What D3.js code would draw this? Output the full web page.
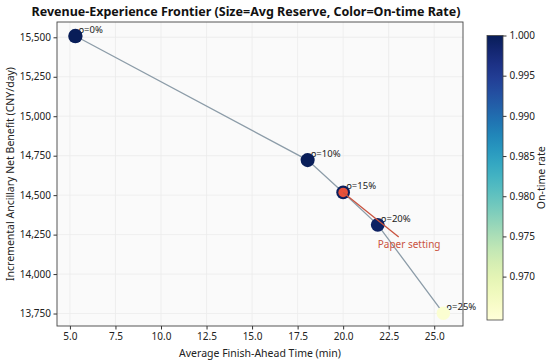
<!DOCTYPE html>
<html>
<head>
<meta charset="utf-8">
<script src="https://cdn.jsdelivr.net/npm/d3@7"></script>
<style>
  body { margin: 0; background: #fff; }
  svg { font-family: "Noto Sans", sans-serif; }
</style>
</head>
<body>
<div id="wrapper"></div>
<script>
// data
const rhoLabels = ["ρ=0%", "ρ=10%", "ρ=15%", "ρ=20%", "ρ=25%"];
const finishAhead = [5.3, 18.05, 20.0, 21.9, 25.5];
const netBenefit = [15508, 14722, 14517, 14312, 13752];
const onTimeRate = [1.0, 0.9999, 0.9996, 0.9992, 0.9655];
const avgReserve = [3.3, 3.15, 3.0, 3.05, 2.9];
const xTicks = [5, 7.5, 10, 12.5, 15, 17.5, 20, 22.5, 25];
const yTicks = [13750, 14000, 14250, 14500, 14750, 15000, 15250, 15500];
const cbTicks = [0.970, 0.975, 0.980, 0.985, 0.990, 0.995, 1.000];
const paperIndex = 2;

const data = rhoLabels.map((l, i) => ({
    label: l,
    x: finishAhead[i],
    y: netBenefit[i],
    c: onTimeRate[i],
    s: avgReserve[i]
}));

let dimensions = {
    width: 550,
    height: 364,
    margin: { top: 22, right: 87, bottom: 38, left: 57 }
};
dimensions.boundedWidth = dimensions.width - dimensions.margin.left - dimensions.margin.right;
dimensions.boundedHeight = dimensions.height - dimensions.margin.top - dimensions.margin.bottom;

const svg = d3.select("#wrapper")
    .append("svg")
    .attr("width", dimensions.width)
    .attr("height", dimensions.height);

const bounds = svg.append("g")
    .attr("transform", `translate(${dimensions.margin.left},${dimensions.margin.top})`);

const xScale = d3.scaleLinear()
    .domain([4.29, 26.58])
    .range([0, dimensions.boundedWidth]);

const yScale = d3.scaleLinear()
    .domain([13671, 15597])
    .range([dimensions.boundedHeight, 0]);

const colorScale = d3.scaleSequential(d3.interpolateYlGnBu)
    .domain([0.9646, 1.0]);

const rScale = d3.scaleSqrt()
    .domain([0, d3.max(avgReserve)])
    .range([0, 7.2]);

// background + grid
bounds.append("rect")
    .attr("width", dimensions.boundedWidth)
    .attr("height", dimensions.boundedHeight)
    .attr("fill", "#fafafa");

bounds.append("g")
    .selectAll("line")
    .data(xTicks)
    .join("line")
    .attr("x1", d => xScale(d)).attr("x2", d => xScale(d))
    .attr("y1", 0).attr("y2", dimensions.boundedHeight)
    .attr("stroke", "#ebebeb").attr("stroke-width", 0.8);

bounds.append("g")
    .selectAll("line")
    .data(yTicks)
    .join("line")
    .attr("y1", d => yScale(d)).attr("y2", d => yScale(d))
    .attr("x1", 0).attr("x2", dimensions.boundedWidth)
    .attr("stroke", "#ebebeb").attr("stroke-width", 0.8);

// axes
const xAxis = bounds.append("g")
    .attr("transform", `translate(0,${dimensions.boundedHeight})`)
    .call(d3.axisBottom(xScale).tickValues(xTicks).tickFormat(d3.format(".1f")).tickSize(3.5).tickPadding(3));

const yAxis = bounds.append("g")
    .call(d3.axisLeft(yScale).tickValues(yTicks).tickFormat(d3.format(",")).tickSize(3.5).tickPadding(2.5));

[xAxis, yAxis].forEach(a => {
    a.select(".domain").remove();
    a.selectAll("text").attr("font-size", 10).attr("fill", "#222").attr("font-family", "Noto Sans");
    a.selectAll("line").attr("stroke", "#333");
});

bounds.append("rect")
    .attr("width", dimensions.boundedWidth)
    .attr("height", dimensions.boundedHeight)
    .attr("fill", "none")
    .attr("stroke", "#444")
    .attr("stroke-width", 0.9);

// frontier line
bounds.append("path")
    .datum(data)
    .attr("d", d3.line().x(d => xScale(d.x)).y(d => yScale(d.y)))
    .attr("fill", "none")
    .attr("stroke", "#8c9ca8")
    .attr("stroke-width", 1.3);

// point labels
bounds.append("g")
    .selectAll("text")
    .data(data)
    .join("text")
    .attr("x", d => xScale(d.x) + 3)
    .attr("y", d => yScale(d.y) - 3)
    .attr("font-size", 9.5)
    .attr("fill", "#222")
    .text(d => d.label);

// points
bounds.append("g")
    .selectAll("circle")
    .data(data)
    .join("circle")
    .attr("cx", d => xScale(d.x))
    .attr("cy", d => yScale(d.y))
    .attr("r", d => rScale(d.s))
    .attr("fill", d => colorScale(d.c));

// paper setting highlight
const paper = data[paperIndex];
bounds.append("circle")
    .attr("cx", xScale(paper.x))
    .attr("cy", yScale(paper.y))
    .attr("r", 4.8)
    .attr("fill", "#e8503a");

bounds.append("line")
    .attr("x1", xScale(23.05))
    .attr("y1", yScale(14235))
    .attr("x2", xScale(paper.x))
    .attr("y2", yScale(paper.y))
    .attr("stroke", "#c9533f")
    .attr("stroke-width", 1.3);

bounds.append("text")
    .attr("x", xScale(21.9))
    .attr("y", yScale(14165))
    .attr("font-size", 10)
    .attr("fill", "#c9533f")
    .text("Paper setting");

// axis labels + title
svg.append("text")
    .attr("x", dimensions.margin.left + dimensions.boundedWidth / 2)
    .attr("y", 357)
    .attr("text-anchor", "middle")
    .attr("font-size", 10.5)
    .attr("fill", "#222")
    .text("Average Finish-Ahead Time (min)");

svg.append("text")
    .attr("transform", `translate(14,${dimensions.margin.top + dimensions.boundedHeight / 2}) rotate(-90)`)
    .attr("text-anchor", "middle")
    .attr("font-size", 10.5)
    .attr("fill", "#222")
    .text("Incremental Ancillary Net Benefit (CNY/day)");

svg.append("text")
    .attr("x", 246)
    .attr("y", 16)
    .attr("text-anchor", "middle")
    .attr("font-size", 12.5)
    .attr("font-weight", "bold")
    .attr("fill", "#111")
    .text("Revenue-Experience Frontier (Size=Avg Reserve, Color=On-time Rate)");

// colorbar
const cb = { x: 487, y: 35.5, w: 16, h: 284.5 };
const cbScale = d3.scaleLinear()
    .domain(colorScale.domain())
    .range([cb.y + cb.h, cb.y]);

const defs = svg.append("defs");
const grad = defs.append("linearGradient")
    .attr("id", "cbgrad")
    .attr("x1", 0).attr("y1", 1).attr("x2", 0).attr("y2", 0);
d3.range(0, 1.0001, 0.05).forEach(t => {
    grad.append("stop")
        .attr("offset", t)
        .attr("stop-color", colorScale(colorScale.domain()[0] + t * (colorScale.domain()[1] - colorScale.domain()[0])));
});

svg.append("rect")
    .attr("x", cb.x).attr("y", cb.y)
    .attr("width", cb.w).attr("height", cb.h)
    .attr("fill", "url(#cbgrad)")
    .attr("stroke", "#444")
    .attr("stroke-width", 0.8);

const cbAxis = svg.append("g")
    .attr("transform", `translate(${cb.x + cb.w},0)`)
    .call(d3.axisRight(cbScale).tickValues(cbTicks).tickFormat(d3.format(".3f")).tickSize(3.5).tickPadding(3));
cbAxis.select(".domain").remove();
cbAxis.selectAll("text").attr("font-size", 10).attr("fill", "#222").attr("font-family", "Noto Sans");
cbAxis.selectAll("line").attr("stroke", "#333");

svg.append("text")
    .attr("transform", `translate(545,${cb.y + cb.h / 2}) rotate(-90)`)
    .attr("text-anchor", "middle")
    .attr("font-size", 10.5)
    .attr("fill", "#222")
    .text("On-time rate");
</script>
</body>
</html>
